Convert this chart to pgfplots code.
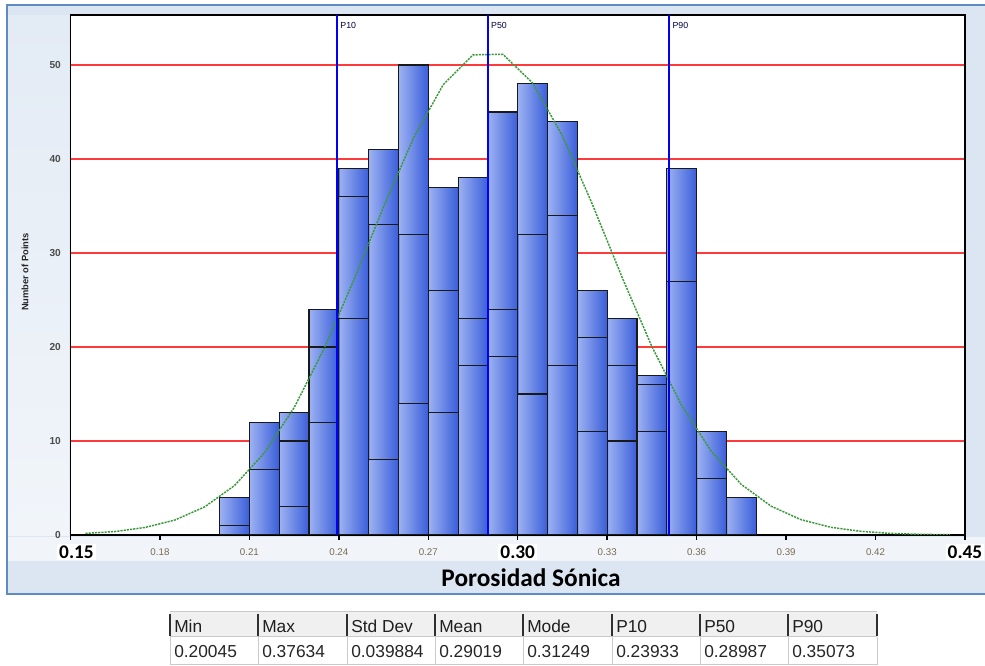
\documentclass[border=0pt]{standalone}
\usepackage{pgfplots}
\pgfplotsset{compat=1.18}
\usepackage{fontspec}
\setmainfont{Liberation Sans}
\newfontfamily\calib{Carlito}

\definecolor{panel}{HTML}{DCE6F2}
\definecolor{panellight}{HTML}{F1F5FA}
\definecolor{panelline}{HTML}{5E8BC0}
\definecolor{barL}{HTML}{9DB2F2}
\definecolor{barR}{HTML}{3A5EDA}
\definecolor{gridred}{HTML}{FF3A3A}
\definecolor{pblue}{HTML}{0000F5}
\definecolor{curvegreen}{HTML}{3A9A3A}
\definecolor{ticktan}{HTML}{7A6A4E}
\definecolor{hdrgrey}{HTML}{F0F0F0}
\definecolor{cellline}{HTML}{CACACA}
\definecolor{hdrsep}{HTML}{303030}

% A horizontal shading made of #2 equal light-to-dark ramps, so that every
% bar of one plot path gets its own left-to-right gradient.
\newcommand\makebarshading[2]{%
  \gdef\barspec{color(0bp)=(barL)}%
  \pgfmathsetmacro\barw{50/#2}%
  \foreach \k in {1,...,#2}{%
    \pgfmathsetmacro\ba{25+(\k-1)*\barw+0.01}%
    \pgfmathsetmacro\bb{25+\k*\barw}%
    \xdef\barspec{\barspec; color(\ba bp)=(barL); color(\bb bp)=(barR)}%
  }%
  \xdef\barspec{\barspec; color(100bp)=(barR)}%
  \edef\next{\noexpand\pgfdeclarehorizontalshading{#1}{100bp}{\barspec}}%
  \next
}
\makebarshading{bars18}{18}
\makebarshading{bars17}{17}
\makebarshading{bars13}{13}

\newcommand\bigtick[1]{{\setlength{\fboxsep}{1.5pt}\colorbox{white}{\color{black}\calib\bfseries\fontsize{14.5}{15}\selectfont #1}}}

\pgfplotsset{
  histbar/.style={ybar, bar width=0.01, bar shift=0pt,
    draw=black!90, line width=0.85pt, shade, shading=#1},
}

\begin{document}
\begin{tikzpicture}
\useasboundingbox (0,0) rectangle (738.75pt,499.5pt);
\clip (0,0) rectangle (738.75pt,499.5pt);

% window panel, in pixel units measured from the top-left corner
\begin{scope}[x=0.75pt,y=-0.75pt,yshift=499.5pt]
  \fill[white] (0,0) rectangle (985,666);
  \fill[panel] (7,5) rectangle (995,594);
  \shade[top color=panel!80!white, bottom color=panellight] (8,16) rectangle (69,536);
  \fill[panellight] (8,537) rectangle (995,561);
  \draw[panelline, line width=1.5pt] (995,5) -- (7,5) -- (7,594) -- (995,594);
  \node[rotate=90, font=\bfseries\fontsize{7}{8}\selectfont, text=black!85] at (25,272) {Number of Points};
  \node[font=\calib\bfseries\fontsize{19}{20}\selectfont, text=black] at (531,578) {Porosidad Sónica};

  % statistics table
  \fill[hdrgrey] (170,612) rectangle (877,637);
  \fill[white] (170,637) rectangle (877,665);
  \draw[cellline, line width=0.75pt] (170,612) -- (877,612);
  \draw[cellline, line width=0.75pt] (170,637) -- (877,637);
  \draw[cellline, line width=0.75pt] (170,665) -- (877,665);
  \foreach \cx in {170,258,347,435,523,612,700,788,877} {
    \draw[cellline, line width=0.75pt] (\cx,637) -- (\cx,665);
    \draw[hdrsep, line width=1.5pt] (\cx,614) -- (\cx,636);
  }
  \foreach \cx/\hd/\val in {170/Min/0.20045, 258/Max/0.37634, 347/Std Dev/0.039884,
      435/Mean/0.29019, 523/Mode/0.31249, 612/P10/0.23933, 700/P50/0.28987, 788/P90/0.35073} {
    \node[anchor=west, inner sep=0pt, font=\fontsize{13}{14}\selectfont, text=black!88] at (\cx+4,626.5) {\hd};
    \node[anchor=west, inner sep=0pt, font=\fontsize{13}{14}\selectfont, text=black!85] at (\cx+4,652) {\val};
  }
\end{scope}

\begin{axis}[
  at={(52.875pt,98.25pt)}, anchor=south west,
  scale only axis, width=670.875pt, height=390pt,
  xmin=0.15, xmax=0.45, ymin=0, ymax=55.32,
  axis background/.style={fill=white},
  axis line style={black, line width=1.1pt},
  ymajorgrids, major grid style={gridred, line width=1.1pt},
  tick align=outside, major tick length=3.75pt,
  xtick pos=bottom, ytick pos=left,
  xtick style={black, line width=1.1pt},
  ytick style={draw=none},
  xtick={0.15,0.18,0.21,0.24,0.27,0.30,0.33,0.36,0.39,0.42,0.45},
  xticklabels={{\hspace*{9pt}\bigtick{0.15}},0.18,0.21,0.24,0.27,{\bigtick{0.30}},0.33,0.36,0.39,0.42,{\bigtick{0.45}}},
  xticklabel style={anchor=center, yshift=-9pt, font=\fontsize{7.3}{8}\selectfont, text=ticktan},
  ytick={0,10,20,30,40,50},
  yticklabels={0,10,20,30,40,50},
  yticklabel style={font=\bfseries\fontsize{7.6}{8}\selectfont, text=black!70, xshift=0pt},
  clip=true,
]
% full bar heights
\addplot[histbar=bars18] coordinates {
  (0.205,4) (0.215,12) (0.225,13) (0.235,24) (0.245,39) (0.255,41)
  (0.265,50) (0.275,37) (0.285,38) (0.295,45) (0.305,48) (0.315,44)
  (0.325,26) (0.335,23) (0.345,17) (0.355,39) (0.365,11) (0.375,4)};
% upper group boundary
\addplot[histbar=bars13] coordinates {
  (0.225,10) (0.235,20) (0.245,36) (0.255,33) (0.265,32) (0.275,26)
  (0.285,23) (0.295,24) (0.305,32) (0.315,34) (0.325,21) (0.335,18) (0.345,16)};
% lower group boundary
\addplot[histbar=bars17] coordinates {
  (0.205,1) (0.215,7) (0.225,3) (0.235,12) (0.245,23) (0.255,8)
  (0.265,14) (0.275,13) (0.285,18) (0.295,19) (0.305,15) (0.315,18)
  (0.325,11) (0.335,10) (0.345,11) (0.355,27) (0.365,6)};

% fitted normal curve (mean 0.29019, sd 0.039884, n = 515)
\addplot[curvegreen, line width=1.1pt, dash pattern=on 1.6pt off 0.8pt] coordinates {
  (0.155,0.17) (0.165,0.37) (0.175,0.80) (0.185,1.59) (0.195,2.99)
  (0.205,5.26) (0.215,8.72) (0.225,13.55) (0.235,19.78) (0.245,27.11)
  (0.255,34.91) (0.265,42.20) (0.275,47.91) (0.285,51.08) (0.295,51.14)
  (0.305,48.08) (0.315,42.45) (0.325,35.20) (0.335,27.41) (0.345,20.04)
  (0.355,13.76) (0.365,8.87) (0.375,5.37) (0.385,3.06) (0.395,1.63)
  (0.405,0.82) (0.415,0.39) (0.425,0.17) (0.435,0.07) (0.445,0.03)};

% percentile markers
\addplot[pblue, line width=1.5pt] coordinates {(0.23933,0) (0.23933,55.32)};
\addplot[pblue, line width=1.5pt] coordinates {(0.28987,0) (0.28987,55.32)};
\addplot[pblue, line width=1.5pt] coordinates {(0.35073,0) (0.35073,55.32)};
\node[anchor=west, inner sep=0pt, xshift=2.5pt, font=\fontsize{6.6}{7}\selectfont, text=black!75!blue] at (axis cs:0.23933,54.25) {P10};
\node[anchor=west, inner sep=0pt, xshift=2.5pt, font=\fontsize{6.6}{7}\selectfont, text=black!75!blue] at (axis cs:0.28987,54.25) {P50};
\node[anchor=west, inner sep=0pt, xshift=2.5pt, font=\fontsize{6.6}{7}\selectfont, text=black!75!blue] at (axis cs:0.35073,54.25) {P90};
\end{axis}
\end{tikzpicture}
\end{document}
